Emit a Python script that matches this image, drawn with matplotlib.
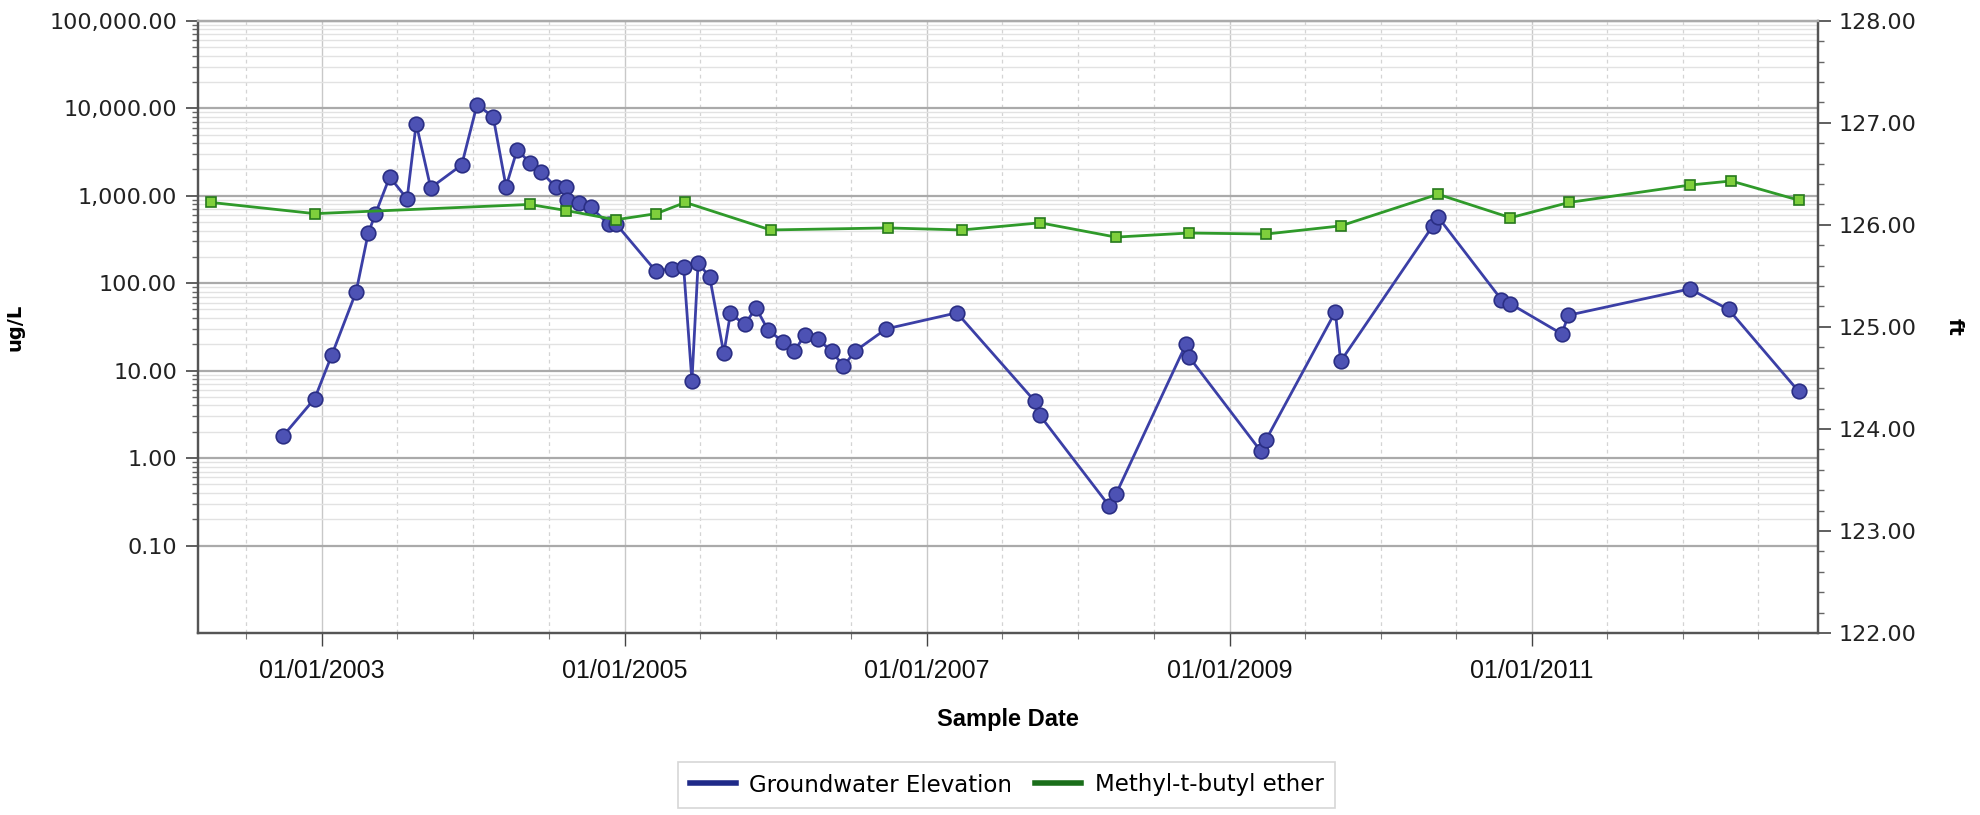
import matplotlib

matplotlib.use("Agg")
import matplotlib.pyplot as plt  # noqa: E402
import matplotlib.dates as mdates  # noqa: E402
import matplotlib.ticker as mticker  # noqa: E402
from matplotlib.lines import Line2D  # noqa: E402
import pandas as pd  # noqa: E402

# --- data ---
blue_dates = [
    "2002-09-28", "2002-12-14", "2003-01-24", "2003-03-24", "2003-04-22",
    "2003-05-09", "2003-06-13", "2003-07-25", "2003-08-16", "2003-09-20",
    "2003-12-04", "2004-01-10", "2004-02-18", "2004-03-20", "2004-04-16",
    "2004-05-16", "2004-06-13", "2004-07-18", "2004-08-13", "2004-08-15",
    "2004-09-12", "2004-10-11", "2004-11-23", "2004-12-10", "2005-03-17",
    "2005-04-24", "2005-05-23", "2005-06-12", "2005-06-27", "2005-07-25",
    "2005-08-28", "2005-09-13", "2005-10-17", "2005-11-14", "2005-12-13",
    "2006-01-19", "2006-02-14", "2006-03-12", "2006-04-12", "2006-05-16",
    "2006-06-13", "2006-07-11", "2006-09-24", "2007-03-14", "2007-09-18",
    "2007-09-30", "2008-03-16", "2008-04-01", "2008-09-17", "2008-09-25",
    "2009-03-17", "2009-03-30", "2009-09-13", "2009-09-26", "2010-05-06",
    "2010-05-19", "2010-10-19", "2010-11-10", "2011-03-14", "2011-03-30",
    "2012-01-17", "2012-04-20", "2012-10-06",
]
blue_values = [
    1.78, 4.8, 15, 80, 370,
    610, 1640, 920, 6680, 1230,
    2250, 11000, 7960, 1270, 3370,
    2390, 1870, 1260, 1270, 904,
    828, 739, 469, 480, 137,
    147, 152, 7.6, 171, 117,
    15.7, 45, 33.7, 52, 29,
    21.3, 16.7, 25.5, 22.7, 16.7,
    11.2, 16.7, 30, 45.8, 4.48,
    3.1, 0.283, 0.385, 19.9, 14.3,
    1.2, 1.63, 47, 12.8, 448,
    572, 65, 58, 26.3, 43,
    86, 50, 5.8,
]

green_dates = [
    "2002-04-07", "2002-12-14", "2004-05-16", "2004-08-13", "2004-12-10",
    "2005-03-18", "2005-05-27", "2005-12-19", "2006-09-28", "2007-03-26",
    "2007-10-01", "2008-04-01", "2008-09-25", "2009-03-30", "2009-09-26",
    "2010-05-19", "2010-11-10", "2011-04-01", "2012-01-17", "2012-04-26",
    "2012-10-08",
]
green_values = [
    126.22, 126.11, 126.20, 126.14, 126.05,
    126.11, 126.22, 125.95, 125.97, 125.95,
    126.02, 125.88, 125.92, 125.91, 125.99,
    126.30, 126.07, 126.22, 126.39, 126.43,
    126.24,
]

left_ticks = [0.1, 1, 10, 100, 1000, 10000, 100000]
right_ticks = [122, 123, 124, 125, 126, 127, 128]
label_years = ["2003-01-01", "2005-01-01", "2007-01-01", "2009-01-01", "2011-01-01"]
legend_labels = ["Groundwater Elevation", "Methyl-t-butyl ether"]

BLUE_LINE = "#3b3fa6"
BLUE_FACE = "#4d52b4"
BLUE_EDGE = "#2a2e84"
GREEN_LINE = "#2f9a2a"
GREEN_FACE = "#7fcf3c"
GREEN_EDGE = "#26791c"

NARROW = ["Liberation Sans Narrow", "Liberation Sans", "DejaVu Sans"]

fig = plt.figure(figsize=(19.8, 8.15), dpi=100)
ax = fig.add_axes([0.1, 0.2233, 0.818, 0.7512])
ax2 = ax.twinx()

bx = pd.to_datetime(blue_dates)
gx = pd.to_datetime(green_dates)

ax.plot(bx, blue_values, color=BLUE_LINE, lw=2.0, marker="o", ms=10.5,
        mfc=BLUE_FACE, mec=BLUE_EDGE, mew=1.2, zorder=3)
ax2.plot(gx, green_values, color=GREEN_LINE, lw=2.0, marker="s", ms=6.5,
         mfc=GREEN_FACE, mec=GREEN_EDGE, mew=1.2, zorder=4)

# left log axis
ax.set_yscale("log")
ax.set_ylim(0.01, 100000)
ax.yaxis.set_major_locator(mticker.FixedLocator(left_ticks))
ax.yaxis.set_major_formatter(mticker.FuncFormatter(lambda v, p: f"{v:,.2f}"))
minor = [k * 10.0 ** e for e in range(-1, 5) for k in range(2, 10)]
ax.yaxis.set_minor_locator(mticker.FixedLocator(minor))
ax.yaxis.set_minor_formatter(mticker.NullFormatter())
ax.grid(axis="y", which="major", color="#aaaaaa", lw=1.6)
ax.grid(axis="y", which="minor", color="#e2e2e2", lw=1.0)

# date axis
ax.set_xlim(pd.Timestamp("2002-03-07"), pd.Timestamp("2012-11-21"))
ax.xaxis.set_major_locator(mticker.FixedLocator(mdates.date2num(pd.to_datetime(label_years))))
ax.xaxis.set_major_formatter(mdates.DateFormatter("%m/%d/%Y"))
ax.xaxis.set_minor_locator(mdates.MonthLocator(bymonth=[1, 7]))
ax.grid(axis="x", which="major", color="#c8c8c8", lw=1.0)
ax.grid(axis="x", which="minor", color="#d4d4d4", lw=0.9, ls=(0, (3, 3)))
ax.set_axisbelow(True)

# right axis
ax2.set_ylim(122, 128)
ax2.yaxis.set_major_locator(mticker.FixedLocator(right_ticks))
ax2.yaxis.set_major_formatter(mticker.FormatStrFormatter("%.2f"))
ax2.yaxis.set_minor_locator(mticker.MultipleLocator(0.2))

for a in (ax, ax2):
    for s in a.spines.values():
        s.set_color("#555555")
        s.set_linewidth(1.6)
    a.spines["top"].set_color("#aaaaaa")

ax.tick_params(axis="y", which="major", length=9, width=1.2, color="#444444",
               labelsize=16, labelcolor="#222222", pad=6)
ax.tick_params(axis="y", which="minor", length=4, width=1.0, color="#666666")
ax.tick_params(axis="x", which="major", length=9, width=1.0, color="#444444",
               labelsize=18, labelcolor="#111111", pad=10)
ax.tick_params(axis="x", which="minor", length=4, width=0.8, color="#777777")
ax2.tick_params(axis="y", which="major", length=9, width=1.2, color="#444444",
                labelsize=16, labelcolor="#222222", pad=6)
ax2.tick_params(axis="y", which="minor", length=4, width=1.0, color="#666666")
for t in ax.get_xticklabels():
    t.set_family(NARROW)

ax.set_xlabel("Sample Date", fontsize=17, fontweight="bold", family=NARROW,
              labelpad=18)
ax.set_ylabel("ug/L", fontsize=14, fontweight="bold", labelpad=18)
ax2.set_ylabel("ft", fontsize=14, fontweight="bold", rotation=270, labelpad=34)

handles = [Line2D([], [], color="#1f2a88", lw=4),
           Line2D([], [], color="#1a6e1a", lw=4)]
leg = fig.legend(handles, legend_labels, loc="center", ncol=2,
                 bbox_to_anchor=(0.5085, 1 - 785 / 815), fontsize=16.5,
                 frameon=True, fancybox=False, handlelength=2.0,
                 columnspacing=1.0, handletextpad=0.6, borderpad=0.5)
leg.get_frame().set_edgecolor("#cccccc")
leg.get_frame().set_linewidth(1.2)

fig.savefig("out.png", dpi=100)
plt.close(fig)
